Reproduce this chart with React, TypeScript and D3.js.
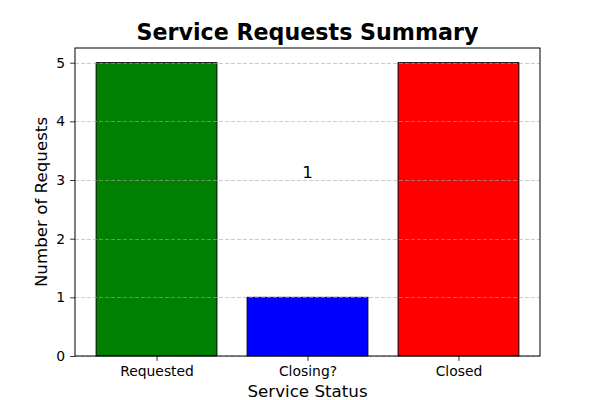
import React, { useEffect, useRef } from "react";
import * as d3 from "d3";

const categories = ["Requested", "Closing?", "Closed"];
const counts = [5, 1, 5];
const barColors = ["green", "blue", "red"];
const yTicks = [0, 1, 2, 3, 4, 5];
const annotationValue = 1;
const annotationY = 3;

const W = 600;
const H = 400;
const margin = { top: 48, right: 60, bottom: 44, left: 75 };

const App = (): JSX.Element => {
  const ref = useRef<SVGSVGElement>(null);

  useEffect(() => {
    const svg = d3.select(ref.current);
    svg.selectAll("*").remove();
    const width = W - margin.left - margin.right;
    const height = H - margin.top - margin.bottom;
    const font = "DejaVu Sans, sans-serif";

    const x = d3.scaleLinear().domain([-0.54, 2.54]).range([0, width]);
    const y = d3.scaleLinear().domain([0, 5.25]).range([height, 0]);

    const g = svg
      .append("g")
      .attr("transform", `translate(${margin.left},${margin.top})`);

    g.selectAll("rect.bar")
      .data(counts)
      .enter()
      .append("rect")
      .attr("class", "bar")
      .attr("x", (_, i) => x(i - 0.4))
      .attr("width", x(0.8) - x(0))
      .attr("y", (d) => y(d))
      .attr("height", (d) => y(0) - y(d))
      .attr("fill", (_, i) => barColors[i])
      .attr("stroke", "black")
      .attr("stroke-width", 1);

    // grid on top of bars
    g.selectAll("line.grid")
      .data(yTicks)
      .enter()
      .append("line")
      .attr("x1", 0)
      .attr("x2", width)
      .attr("y1", (d) => Math.round(y(d)) + 0.5)
      .attr("y2", (d) => Math.round(y(d)) + 0.5)
      .attr("stroke", "#a8a8a8")
      .attr("stroke-opacity", 0.75)
      .attr("stroke-width", 0.8)
      .attr("stroke-dasharray", "4,2");

    g.append("text")
      .attr("x", x(1))
      .attr("y", y(annotationY) - 2)
      .attr("text-anchor", "middle")
      .style("font-family", font)
      .style("font-size", "16.7px")
      .text(annotationValue);

    const xAxis = g
      .append("g")
      .attr("transform", `translate(0,${height})`)
      .call(
        d3
          .axisBottom(x)
          .tickValues([0, 1, 2])
          .tickFormat((d) => categories[d as number])
          .tickSize(4.9)
          .tickPadding(4.9)
      );
    const yAxis = g.append("g").call(
      d3
        .axisLeft(y)
        .tickValues(yTicks)
        .tickFormat(d3.format("d"))
        .tickSize(4.9)
        .tickPadding(4.9)
    );
    [xAxis, yAxis].forEach((a) => {
      a.select(".domain").remove();
      a.selectAll("line").attr("stroke", "black").attr("stroke-width", 0.8);
      a.selectAll("text")
        .style("font-family", font)
        .style("font-size", "13.9px")
        .attr("fill", "black");
    });

    g.append("rect")
      .attr("x", 0)
      .attr("y", 0)
      .attr("width", width)
      .attr("height", height)
      .attr("fill", "none")
      .attr("stroke", "black")
      .attr("stroke-width", 1);

    svg
      .append("text")
      .attr("x", margin.left + width / 2)
      .attr("y", 40)
      .attr("text-anchor", "middle")
      .style("font-family", font)
      .style("font-size", "22.2px")
      .style("font-weight", "bold")
      .text("Service Requests Summary");

    svg
      .append("text")
      .attr("x", margin.left + width / 2)
      .attr("y", 397)
      .attr("text-anchor", "middle")
      .style("font-family", font)
      .style("font-size", "16.7px")
      .text("Service Status");

    svg
      .append("text")
      .attr("transform", `translate(47,${margin.top + height / 2}) rotate(-90)`)
      .attr("text-anchor", "middle")
      .style("font-family", font)
      .style("font-size", "16.7px")
      .text("Number of Requests");
  }, []);

  return (
    <svg
      ref={ref}
      width={W}
      height={H}
      style={{ position: "absolute", left: 0, top: 0, background: "white" }}
    />
  );
};

export default App;
